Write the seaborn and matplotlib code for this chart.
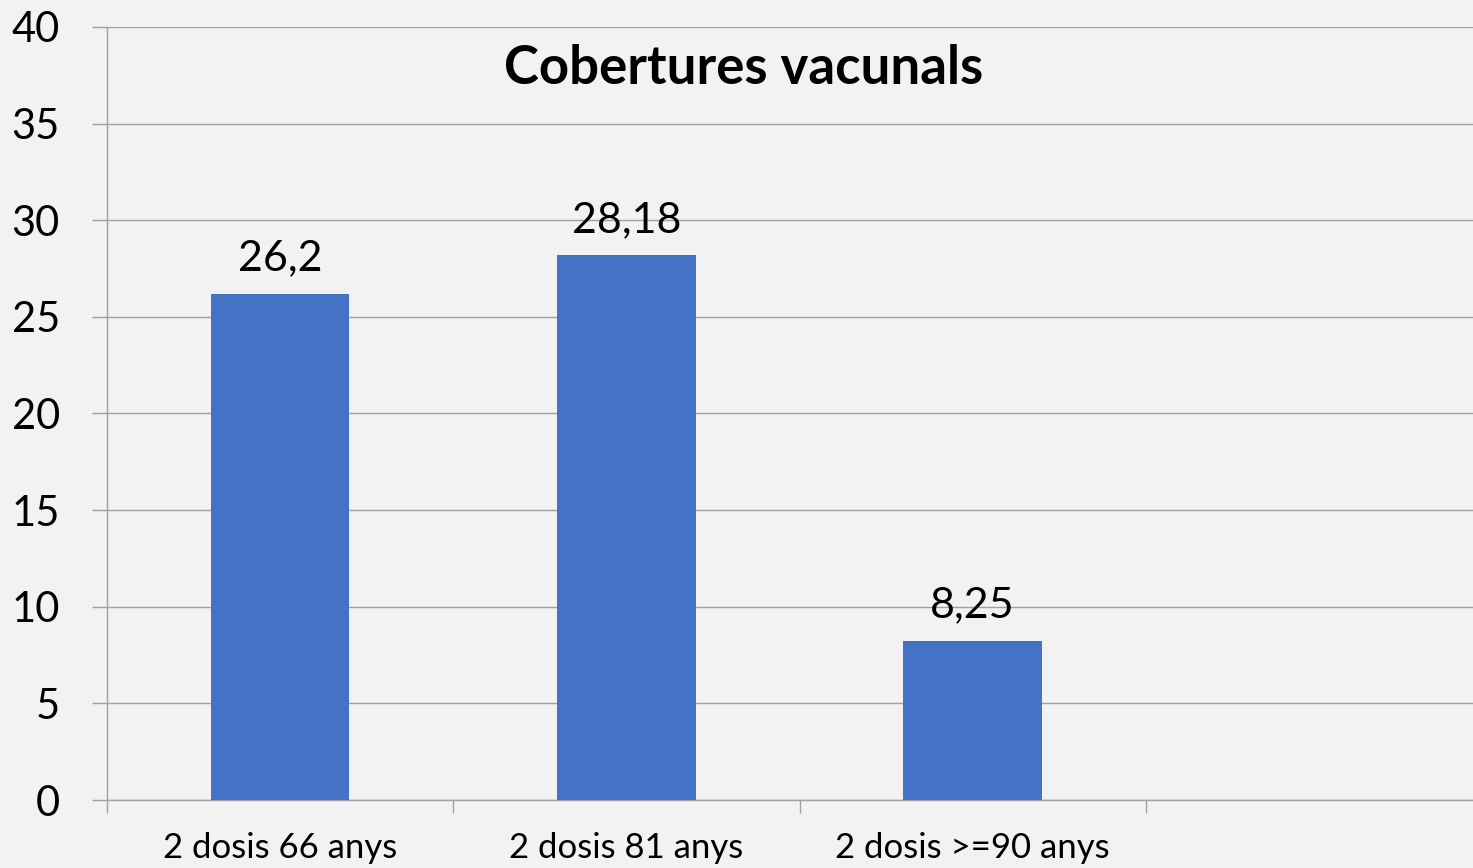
import matplotlib
matplotlib.use("Agg")
import matplotlib.pyplot as plt
import seaborn as sns

categories = ["2 dosis 66 anys", "2 dosis 81 anys", "2 dosis >=90 anys"]
values = [26.2, 28.18, 8.25]
y_ticks = [0, 5, 10, 15, 20, 25, 30, 35, 40]
title = "Cobertures vacunals"

BG = "#F2F2F2"
BAR = "#4472C4"
GRID = "#A0A0A0"

sns.set_theme(style="white")
plt.rcParams["font.family"] = ["Lato", "DejaVu Sans"]

W, H = 1473, 868
fig = plt.figure(figsize=(W / 100, H / 100), dpi=100, facecolor=BG)
# plot area runs past the right edge: four category slots, three used
ax = fig.add_axes([107 / W, 68 / H, (1492 - 107) / W, (800 - 27) / H])
ax.set_facecolor(BG)

sns.barplot(x=categories, y=values, color=BAR, saturation=1, width=0.4,
            linewidth=0, ax=ax, zorder=3)

ax.set_xlim(-0.5, 3.5)
ax.set_ylim(0, 40)
ax.set_yticks(y_ticks)
ax.set_yticklabels([str(t) for t in y_ticks])
ax.grid(axis="y", color=GRID, linewidth=1.0, zorder=0)
ax.set_axisbelow(True)

for side in ("top", "right"):
    ax.spines[side].set_visible(False)
for side in ("left", "bottom"):
    ax.spines[side].set_color(GRID)
    ax.spines[side].set_linewidth(1.0)
    ax.spines[side].set_zorder(1)

ax.tick_params(axis="y", length=11, width=1.0, color=GRID, pad=23,
               labelsize=30, labelcolor="black", left=True)
ax.tick_params(axis="x", which="major", length=0, pad=23,
               labelsize=25, labelcolor="black")
ax.set_xticks([i - 0.5 for i in range(5)], minor=True)
ax.tick_params(axis="x", which="minor", length=9, width=1.0, color=GRID,
               bottom=True)
ax.set_xlabel("")
ax.set_ylabel("")

labels = [f"{v:g}".replace(".", ",") for v in values]
ax.bar_label(ax.containers[0], labels=labels, padding=12, fontsize=31,
             color="black")

fig.text(744 / W, 1 - 68 / H, title, ha="center", va="center",
         fontsize=38, fontweight="bold", color="black")

fig.savefig("out.png", dpi=100, facecolor=BG)
